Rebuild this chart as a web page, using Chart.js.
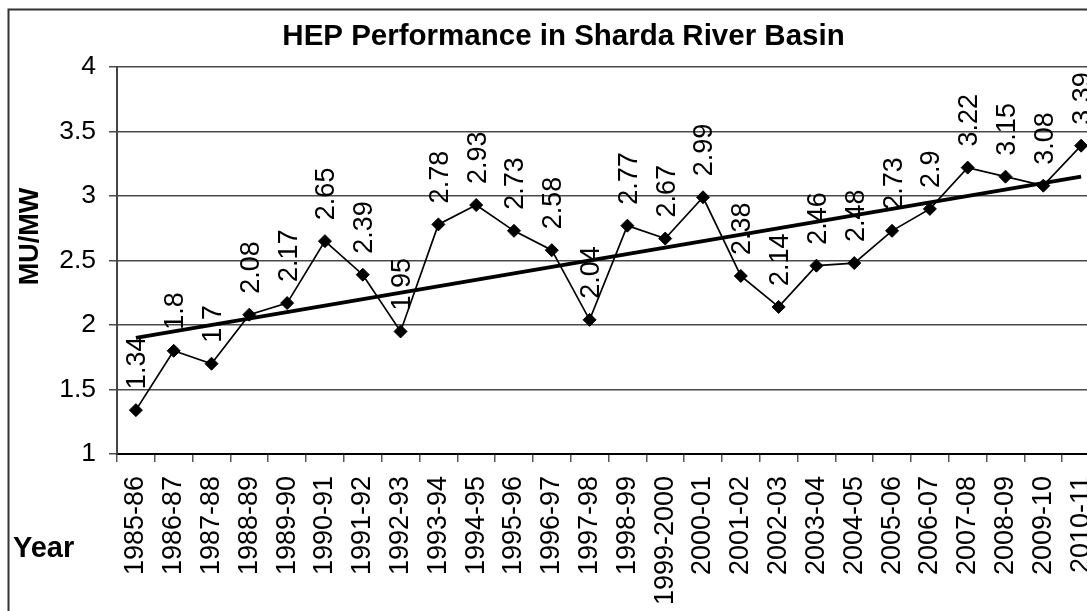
<!DOCTYPE html>
<html>
<head>
<meta charset="utf-8">
<script src="https://cdn.jsdelivr.net/npm/chart.js@4.4.0/dist/chart.umd.min.js"></script>
<style>
  html, body { margin: 0; padding: 0; overflow: hidden; background: #fff; width: 1087px; height: 611px; }
  #wrap { position: absolute; left: 0; top: 0; width: 1140px; height: 640px; }
</style>
</head>
<body>
<div id="wrap"><canvas id="c" width="1140" height="640"></canvas></div>
<script>
const categories = ['1985-86','1986-87','1987-88','1988-89','1989-90','1990-91','1991-92','1992-93','1993-94','1994-95','1995-96','1996-97','1997-98','1998-99','1999-2000','2000-01','2001-02','2002-03','2003-04','2004-05','2005-06','2006-07','2007-08','2008-09','2009-10','2010-11'];
const muPerMw = [1.34, 1.8, 1.7, 2.08, 2.17, 2.65, 2.39, 1.95, 2.78, 2.93, 2.73, 2.58, 2.04, 2.77, 2.67, 2.99, 2.38, 2.14, 2.46, 2.48, 2.73, 2.9, 3.22, 3.15, 3.08, 3.39];
const trendEnds = [1.90, 3.15];
const yTickLabels = ['1', '1.5', '2', '2.5', '3', '3.5', '4'];
const chartTitle = 'HEP Performance in Sharda River Basin';
const yTitle = 'MU/MW';
const xTitle = 'Year';

const trendData = categories.map((c, i) => i === 0 ? trendEnds[0] : (i === categories.length - 1 ? trendEnds[1] : null));

const FONT = "'Liberation Sans', Arial, Helvetica, sans-serif";

const framePlugin = {
  id: 'frame',
  beforeDraw(chart) {
    const ctx = chart.ctx;
    ctx.save();
    ctx.fillStyle = '#fff';
    ctx.fillRect(0, 0, chart.width, chart.height);
    ctx.strokeStyle = '#333';
    ctx.lineWidth = 2;
    ctx.strokeRect(8.5, 9.5, chart.width + 20, chart.height + 20);
    ctx.restore();
  },
  afterDraw(chart) {
    const ctx = chart.ctx;
    ctx.save();
    ctx.fillStyle = '#000';
    ctx.font = 'bold 27px ' + FONT;
    ctx.translate(31, 236.5);
    ctx.rotate(-Math.PI / 2);
    ctx.textAlign = 'center';
    ctx.textBaseline = 'middle';
    ctx.fillText(yTitle, 0, 0);
    ctx.restore();
    ctx.save();
    ctx.fillStyle = '#000';
    ctx.font = 'bold 29px ' + FONT;
    ctx.textAlign = 'left';
    ctx.textBaseline = 'alphabetic';
    ctx.fillText(xTitle, 13, 557);
    ctx.restore();
  }
};

const labelPlugin = {
  id: 'pointLabels',
  afterDatasetsDraw(chart) {
    const ctx = chart.ctx;
    const meta = chart.getDatasetMeta(0);
    ctx.save();
    ctx.fillStyle = '#000';
    ctx.font = '27px ' + FONT;
    meta.data.forEach((el, i) => {
      ctx.save();
      ctx.translate(el.x + 2, el.y - 21);
      ctx.rotate(-Math.PI / 2);
      ctx.textAlign = 'left';
      ctx.textBaseline = 'middle';
      ctx.fillText(String(muPerMw[i]), 0, 0);
      ctx.restore();
    });
    ctx.restore();
  }
};

new Chart(document.getElementById('c'), {
  type: 'line',
  data: {
    labels: categories,
    datasets: [
      {
        label: 'MU/MW',
        data: muPerMw,
        borderColor: '#000',
        borderWidth: 1.7,
        pointStyle: 'rectRot',
        pointRadius: 6.5,
        pointBackgroundColor: '#000',
        pointBorderColor: '#000',
        pointBorderWidth: 1,
        tension: 0,
        fill: false
      },
      {
        label: 'Linear trend',
        data: trendData,
        spanGaps: true,
        borderColor: '#000',
        borderWidth: 4,
        pointRadius: 0,
        tension: 0,
        fill: false
      }
    ]
  },
  options: {
    responsive: false,
    animation: false,
    devicePixelRatio: 1,
    layout: { padding: { left: 27, right: 40, top: 0, bottom: 0 } },
    plugins: {
      legend: { display: false },
      tooltip: { enabled: false },
      title: {
        display: true,
        text: chartTitle,
        color: '#000',
        font: { family: FONT, size: 29.5, weight: 'bold', lineHeight: 1.2 },
        padding: { top: 19.3, bottom: 12.3 }
      }
    },
    scales: {
      x: {
        type: 'category',
        offset: true,
        afterFit(scale) { scale.height = 186; },
        grid: { display: true, drawOnChartArea: false, drawTicks: true, tickLength: 8, offset: true, color: '#555', lineWidth: 1.5 },
        border: { display: true, color: '#000', width: 2 },
        ticks: {
          autoSkip: false,
          minRotation: 90,
          maxRotation: 90,
          padding: 14,
          color: '#000',
          font: { family: FONT, size: 27 }
        }
      },
      y: {
        min: 1,
        max: 4,
        afterFit(scale) { scale.width = 90; },
        grid: { display: true, drawTicks: true, tickLength: 8, color: '#4a4a4a', lineWidth: 1.5 },
        border: { display: true, color: '#444', width: 2 },
        ticks: {
          stepSize: 0.5,
          padding: 13,
          color: '#000',
          font: { family: FONT, size: 26.5 },
          callback: (v, i) => yTickLabels[i]
        }
      }
    }
  },
  plugins: [framePlugin, labelPlugin]
});
</script>
</body>
</html>
